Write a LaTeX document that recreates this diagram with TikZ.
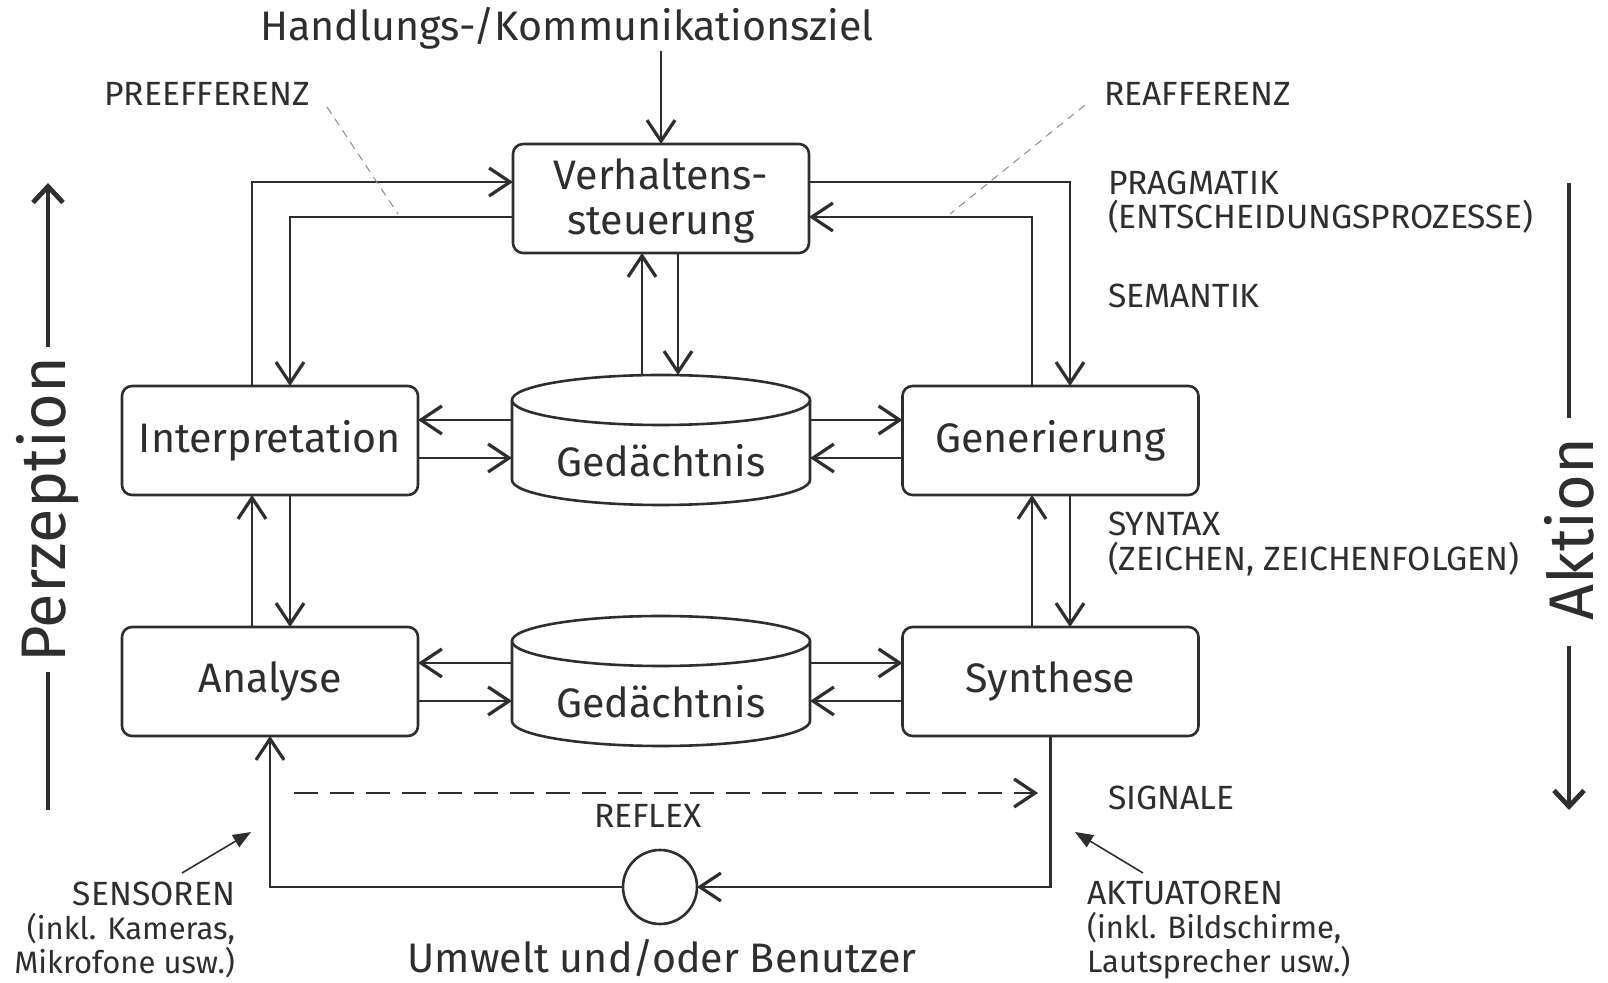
\documentclass[tikz,border=0pt]{standalone}
\usepackage{fontspec}
\setmainfont{Fira Sans}
\usetikzlibrary{arrows.meta,calc}

\definecolor{ink}{HTML}{2E2E2E}
\definecolor{hint}{HTML}{8C8C8C}

\newcommand{\lc}{\fontsize{15.5}{17.5}\selectfont}

\begin{document}
\begin{tikzpicture}[x=0.5pt,y=-0.5pt,
  every node/.style={text=ink, inner sep=0pt, outer sep=0pt},
  box/.style={draw=ink, line width=1.3pt, rounded corners=5pt, fill=white,
    minimum width=148pt, minimum height=54.5pt, align=center,
    font=\fontsize{20.6}{22.5}\selectfont},
  bigtxt/.style={font=\fontsize{20.6}{22.5}\selectfont},
  smalltxt/.style={font=\fontsize{16.8}{17}\selectfont, align=left},
  conn/.style={draw=ink, line width=1.3pt},
  arr/.style={conn, -{Straight Barb[length=10.5pt,width=14pt,line width=1.6pt]}},
  reflex/.style={arr, dash pattern=on 12pt off 6pt},
  hintline/.style={draw=hint, line width=0.5pt, dash pattern=on 4pt off 3pt},
  pointer/.style={draw=ink, line width=0.8pt, -{Triangle[length=9pt,width=7pt]}},
  sidebar/.style={draw=ink, line width=2.4pt},
  sidearr/.style={sidebar, -{Straight Barb[length=8pt,width=15pt,line width=2.4pt]}},
  sidetxt/.style={font=\fontsize{31.5}{31.5}\selectfont, rotate=90}
]
\useasboundingbox (0,0) rectangle (1608,983);

% processing stages
\node[box] (vs) at (661,198.5) {};
\node[bigtxt, align=center, font=\fontsize{20.6}{22.8}\selectfont] (vst) at (661,201) {Verhaltens-\\steuerung};
\node[box] (ip) at (270,440.5) {Interpretation};
\node[box] (ge) at (1050.5,440.5) {Generierung};
\node[box] (an) at (270,681.5) {Analyse};
\node[box] (sy) at (1050.5,681.5) {Synthese};

% memory cylinders
\foreach \cy/\nm in {440/m1, 681/m2}{
  \draw[conn, fill=white] (512,\cy-40) -- (512,\cy+40)
    arc[start angle=180, end angle=0, x radius=149, y radius=25] -- (810,\cy-40);
  \draw[conn, fill=white] (661,\cy-40) ellipse[x radius=149, y radius=25];
  \node[minimum width=149pt, minimum height=65pt] (\nm) at (661,\cy) {};
  \node[bigtxt] (\nm t) at (661,\cy+21) {Gedächtnis};
}

% environment
\node[draw=ink, line width=1.3pt, circle, minimum size=37pt] (env) at (660,887) {};

% helper coordinates for the connector columns and rows
\coordinate (xa) at (252,0);  \coordinate (xb) at (290,0);
\coordinate (xc) at (1032,0); \coordinate (xd) at (1070,0);
\coordinate (xm) at (642,0);  \coordinate (xn) at (678,0);
\coordinate (ya) at (0,182);  \coordinate (yb) at (0,217);
\coordinate (r1) at (0,420);  \coordinate (r2) at (0,458);
\coordinate (r3) at (0,663);  \coordinate (r4) at (0,701);

% goal
\node[bigtxt] (goal) at (567,28) {Handlungs-/Kommunikationsziel};
\coordinate (goalIn) at (661,51);
\draw[arr] (goalIn) -- (vs.north);

% upper loops
\draw[arr] (ip.north -| xa) |- (vs.west |- ya);
\draw[arr] (vs.west |- yb) -| (ip.north -| xb);
\draw[arr] (vs.east |- ya) -| (ge.north -| xd);
\draw[arr] (ge.north -| xc) |- (vs.east |- yb);

% vertical links
\draw[arr] (an.north -| xa) -- (ip.south -| xa);
\draw[arr] (ip.south -| xb) -- (an.north -| xb);
\draw[arr] (sy.north -| xc) -- (ge.south -| xc);
\draw[arr] (ge.south -| xd) -- (sy.north -| xd);
\draw[arr] (m1.north -| xm) -- (vs.south -| xm);
\draw[arr] (vs.south -| xn) -- (m1.north -| xn);

% memory links
\draw[arr] (m1.west |- r1) -- (ip.east |- r1);
\draw[arr] (ip.east |- r2) -- (m1.west |- r2);
\draw[arr] (m1.east |- r1) -- (ge.west |- r1);
\draw[arr] (ge.west |- r2) -- (m1.east |- r2);
\draw[arr] (m2.west |- r3) -- (an.east |- r3);
\draw[arr] (an.east |- r4) -- (m2.west |- r4);
\draw[arr] (m2.east |- r3) -- (sy.west |- r3);
\draw[arr] (sy.west |- r4) -- (m2.east |- r4);

% outer loop through the environment
\draw[arr] (sy.south) |- (env.east);
\draw[arr] (env.west) -| (an.south);
\node[bigtxt] (envtxt) at (662,958) {Umwelt und/oder Benutzer};

% reflex
\coordinate (rfA) at (294,793); \coordinate (rfB) at (1038,793);
\draw[reflex] (rfA) -- (rfB);
\node[smalltxt] (reflextxt) at (648,816) {REFLEX};

% labels
\node[smalltxt] (pre) at (207,94) {PREEFFERENZ};
\coordinate (preA) at (327,107); \coordinate (preB) at (398,214);
\draw[hintline] (preA) -- (preB);
\node[smalltxt, anchor=west] (rea) at (1104,94) {REAFFERENZ};
\coordinate (reaA) at (1085,105); \coordinate (reaB) at (950,214);
\draw[hintline] (reaA) -- (reaB);

\node[smalltxt, anchor=west] (prag) at (1108,202) {PRAGMATIK\\(ENTSCHEIDUNGSPROZESSE)};
\node[smalltxt, anchor=west] (sem) at (1108,296) {SEMANTIK};
\node[smalltxt, anchor=west, font=\fontsize{16.8}{17.5}\selectfont] (syn) at (1108,544) {SYNTAX\\(ZEICHEN, ZEICHENFOLGEN)};
\node[smalltxt, anchor=west] (sig) at (1108,798) {SIGNALE};

\node[smalltxt, anchor=east, align=right, font=\fontsize{16.8}{17.2}\selectfont] (sens) at (235,930) {SENSOREN\\{\lc (inkl. Kameras,}\\{\lc Mikrofone usw.)}};
\coordinate (senA) at (182,873); \coordinate (senB) at (251,832);
\draw[pointer] (senA) -- (senB);
\node[smalltxt, anchor=west, font=\fontsize{16.8}{17.2}\selectfont] (akt) at (1087,930) {AKTUATOREN\\{\lc (inkl. Bildschirme,}\\{\lc Lautsprecher usw.)}};
\coordinate (aktA) at (1143,873); \coordinate (aktB) at (1075,832);
\draw[pointer] (aktA) -- (aktB);

% perception / action axes
\node[sidetxt] (perz) at (48,510) {Perzeption};
\coordinate (pBot) at (48,810); \coordinate (pLo) at (48,672);
\coordinate (pHi) at (48,347);  \coordinate (pTop) at (48,183);
\draw[sidebar] (pBot) -- (pLo);
\draw[sidearr] (pHi) -- (pTop);

\node[sidetxt] (akti) at (1569,529) {Aktion};
\coordinate (aTop) at (1569,183); \coordinate (aHi) at (1569,418);
\coordinate (aLo) at (1569,646);  \coordinate (aBot) at (1569,810);
\draw[sidebar] (aTop) -- (aHi);
\draw[sidearr] (aLo) -- (aBot);
\end{tikzpicture}
\end{document}
